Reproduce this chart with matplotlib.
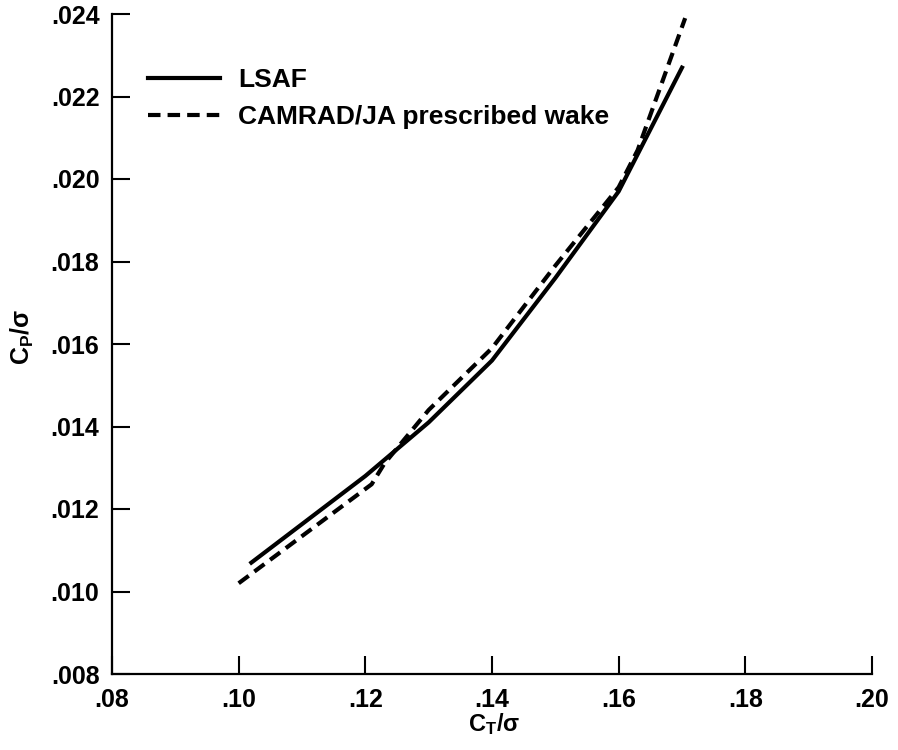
import matplotlib
matplotlib.use('Agg')
import matplotlib.pyplot as plt

plt.rcParams['font.family'] = ['Liberation Sans', 'DejaVu Sans']
plt.rcParams['font.weight'] = 'bold'
plt.rcParams['mathtext.fontset'] = 'custom'
plt.rcParams['mathtext.rm'] = 'Liberation Sans:bold'
plt.rcParams['mathtext.bf'] = 'Liberation Sans:bold'
plt.rcParams['mathtext.it'] = 'Liberation Sans'

# thrust coefficient / solidity vs power coefficient / solidity
lsaf_ct = [0.102, 0.120, 0.130, 0.140, 0.150, 0.160, 0.170]
lsaf_cp = [0.0107, 0.0128, 0.0141, 0.0156, 0.0176, 0.0197, 0.0227]

camrad_ct = [0.100, 0.121, 0.123, 0.130, 0.140, 0.150, 0.160, 0.163, 0.1705]
camrad_cp = [0.0102, 0.0126, 0.0131, 0.0144, 0.0159, 0.0179, 0.0198, 0.0207, 0.0239]

x_ticks = [0.08, 0.10, 0.12, 0.14, 0.16, 0.18, 0.20]
x_tick_labels = ['.08', '.10', '.12', '.14', '.16', '.18', '.20']
y_ticks = [0.008, 0.010, 0.012, 0.014, 0.016, 0.018, 0.020, 0.022, 0.024]
y_tick_labels = ['.008', '.010', '.012', '.014', '.016', '.018', '.020', '.022', '.024']

fig = plt.figure(figsize=(8.98, 7.5), dpi=100)
ax = fig.add_axes([112 / 898, 76 / 750, 760 / 898, 660 / 750])

ax.plot(lsaf_ct, lsaf_cp, color='black', lw=3.0, label='LSAF')
ax.plot(camrad_ct, camrad_cp, color='black', lw=3.0, dashes=(3.0, 1.7),
        label='CAMRAD/JA prescribed wake')

ax.set_xlim(0.08, 0.20)
ax.set_ylim(0.008, 0.024)
ax.set_xticks(x_ticks)
ax.set_xticklabels(x_tick_labels)
ax.set_yticks(y_ticks)
ax.set_yticklabels(y_tick_labels)

for side in ['top', 'right']:
    ax.spines[side].set_visible(False)
for side in ['left', 'bottom']:
    ax.spines[side].set_linewidth(1.6)

ax.tick_params(axis='both', direction='in', length=13, width=1.5, labelsize=18)
ax.tick_params(axis='y', pad=9)
ax.tick_params(axis='x', pad=10)

fig.text(494 / 898, 1 - 731 / 750, r'$\mathbf{C_T}/\sigma$', fontsize=17,
         ha='center', va='baseline')
fig.text(22 / 898, 1 - 337 / 750, r'$\mathbf{C_P}/\sigma$', fontsize=18,
         ha='center', va='center', rotation=90)

ax.legend(loc='upper left', bbox_to_anchor=(0.047, 0.918), frameon=False,
          fontsize=19, handlelength=2.75, handletextpad=0.68, labelspacing=0.5,
          borderpad=0, borderaxespad=0)

fig.savefig('out.png', dpi=100)
